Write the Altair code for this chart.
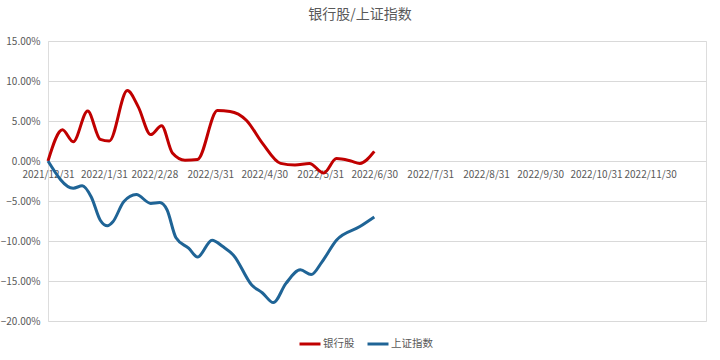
import altair as alt
import pandas as pd

bank_dates = ["2021-12-31", "2022-01-08", "2022-01-14", "2022-01-22", "2022-01-29", "2022-02-03",
              "2022-02-13", "2022-02-19", "2022-02-26", "2022-03-04", "2022-03-10", "2022-03-17",
              "2022-03-24", "2022-04-04", "2022-04-11", "2022-04-20", "2022-04-29", "2022-05-09",
              "2022-05-17", "2022-05-25", "2022-06-02", "2022-06-09", "2022-06-17", "2022-06-22",
              "2022-06-30"]
bank_values = [0.0, 3.9, 2.4, 6.25, 2.7, 2.5,
               8.8, 6.8, 3.3, 4.4, 1.0, 0.1,
               0.2, 6.3, 6.2, 5.1, 2.2, -0.3,
               -0.5, -0.3, -1.5, 0.3, 0.0, -0.3,
               1.2]

sh_dates = ["2021-12-31", "2022-01-14", "2022-01-19", "2022-01-24", "2022-01-29", "2022-02-02",
            "2022-02-05", "2022-02-11", "2022-02-18", "2022-02-26", "2022-03-03", "2022-03-07",
            "2022-03-12", "2022-03-19", "2022-03-24", "2022-04-01", "2022-04-07", "2022-04-13",
            "2022-04-23", "2022-04-29", "2022-05-05", "2022-05-12", "2022-05-20", "2022-05-26",
            "2022-06-01", "2022-06-09", "2022-06-22", "2022-06-30"]
sh_values = [0.0, -3.4, -3.1, -4.5, -7.4, -8.1,
             -7.6, -5.1, -4.2, -5.3, -5.2, -6.1,
             -9.6, -10.9, -12.0, -9.9, -10.7, -11.8,
             -15.5, -16.5, -17.7, -15.3, -13.6, -14.2,
             -12.6, -9.9, -8.2, -7.0]

series_names = ["银行股", "上证指数"]
series_colors = ["#C00000", "#1F6496"]

tick_dates = ["2021-12-31", "2022-01-31", "2022-02-28", "2022-03-31", "2022-04-30", "2022-05-31",
              "2022-06-30", "2022-07-31", "2022-08-31", "2022-09-30", "2022-10-31", "2022-11-30"]
y_ticks = [15, 10, 5, 0, -5, -10, -15, -20]

df = pd.concat([
    pd.DataFrame({"date": bank_dates, "value": [v / 100 for v in bank_values], "series": series_names[0]}),
    pd.DataFrame({"date": sh_dates, "value": [v / 100 for v in sh_values], "series": series_names[1]}),
])

font = "Noto Sans CJK SC"

x_values = [alt.DateTime(year=int(d[:4]), month=int(d[5:7]), date=int(d[8:]), utc=True) for d in tick_dates]

chart = alt.Chart(df).mark_line(strokeWidth=3, interpolate="monotone").encode(
    x=alt.X("date:T",
            scale=alt.Scale(type="utc",
                            domain=[alt.DateTime(year=2021, month=12, date=31, utc=True),
                                    alt.DateTime(year=2022, month=12, date=31, utc=True)]),
            axis=alt.Axis(title=None, values=x_values, labelExpr="utcFormat(datum.value, '%Y/%-m/%-d')",
                          offset=-160, domain=False, ticks=False, grid=False, labelPadding=8,
                          labelColor="#595959", labelFontSize=10, labelFont=font, labelFlush=False)),
    y=alt.Y("value:Q", scale=alt.Scale(domain=[-0.20, 0.15], nice=False),
            axis=alt.Axis(title=None, values=[v / 100 for v in y_ticks], format=".2%",
                          domain=False, ticks=False, gridColor="#D9D9D9", gridWidth=1,
                          labelColor="#595959", labelFontSize=10, labelFont=font, labelPadding=8)),
    color=alt.Color("series:N", scale=alt.Scale(domain=series_names, range=series_colors),
                    sort=series_names,
                    legend=alt.Legend(title=None, orient="none", legendX=250, legendY=291,
                                      direction="horizontal", symbolType="stroke", symbolStrokeWidth=3,
                                      symbolSize=441, labelFont=font, labelFontSize=10.5,
                                      labelColor="#595959", columnPadding=6, labelOffset=1)),
    detail="series:N",
).properties(
    width=658, height=280,
    title=alt.Title("银行股/上证指数", font=font, fontSize=14, fontWeight="normal", color="#595959",
                    anchor="middle", dx=-17, offset=14),
    padding={"left": 48, "top": 41, "right": 14, "bottom": 39},
    autosize=alt.AutoSizeParams(type="none"),
).configure_view(stroke=None).configure(background="white")

chart.save("out.html", embed_options={"renderer": "svg", "actions": False})
